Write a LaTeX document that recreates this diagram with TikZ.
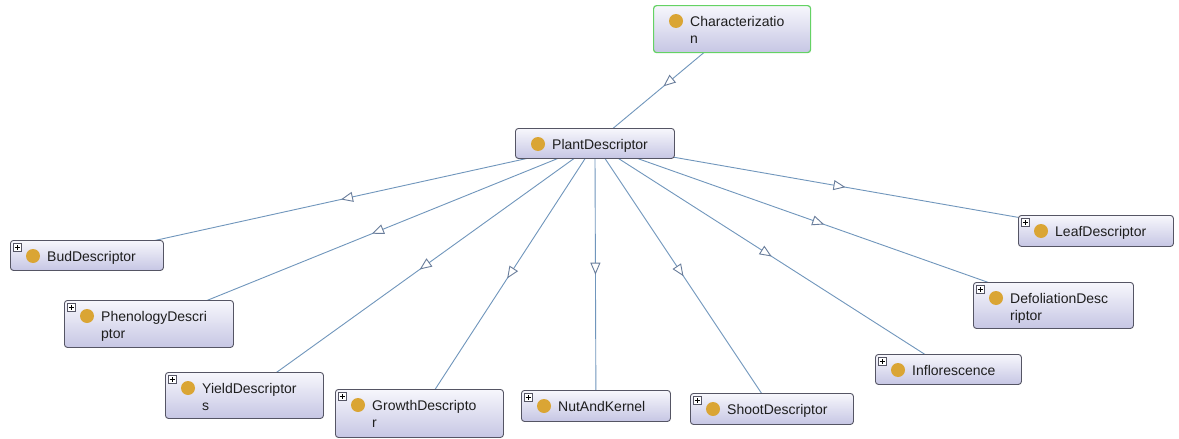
\documentclass[tikz,border=0pt]{standalone}
\usepackage{fontspec}
\setmainfont{Liberation Sans}
\usetikzlibrary{arrows.meta,decorations.markings,backgrounds}

\definecolor{edgecol}{RGB}{112,150,188}
\definecolor{arrowcol}{RGB}{105,125,155}
\definecolor{classborder}{RGB}{85,85,100}
\definecolor{classtop}{RGB}{247,247,252}
\definecolor{classbot}{RGB}{198,198,228}
\definecolor{classdotcol}{RGB}{218,165,52}
\definecolor{rootgreen}{RGB}{100,210,100}
\definecolor{textcol}{RGB}{30,30,30}

\tikzset{
  classbox/.style={draw=classborder, line width=0.9pt, rounded corners=3pt,
    top color=classtop, bottom color=classbot, inner sep=0pt, anchor=north west},
  rootbox/.style={classbox, draw=rootgreen, line width=1.2pt},
  classdot/.style={circle, fill=classdotcol, minimum size=14pt, inner sep=0pt},
  classtext/.style={anchor=base west, inner sep=0pt, text=textcol,
    font=\fontsize{14}{17}\selectfont},
  plusbox/.style={draw=classborder, fill=white, line width=0.6pt,
    minimum size=8pt, inner sep=0pt,
    path picture={
      \draw[black, line width=0.8pt]
        ([xshift=-2.5pt]path picture bounding box.center) --
        ([xshift=2.5pt]path picture bounding box.center)
        ([yshift=-2.5pt]path picture bounding box.center) --
        ([yshift=2.5pt]path picture bounding box.center);}},
  subclass/.style={draw=edgecol, line width=0.9pt,
    postaction={decorate},
    decoration={markings, mark=at position 0.5 with
      {\arrow{Triangle[length=12pt, width=10pt, fill=white, color=arrowcol]}}}}
}

% class box: name, left, top, width, height, style, first line of the label
\newcommand\ontoclass[7]{%
  \node[#6, minimum width=#4pt, minimum height=#5pt] (#1) at (#2,#3) {};
  \node[classdot] (#1-dot) at ([shift={(23,16)}]#1.north west) {};
  \node[classtext] (#1-t1) at ([shift={(37,21)}]#1.north west) {#7};
}
% second label line of a wrapped class name
\newcommand\secondline[2]{%
  \node[classtext] (#1-t2) at ([shift={(37,38.5)}]#1.north west) {#2};
}
% expand marker in the top left corner
\newcommand\expandmark[1]{%
  \node[plusbox] (#1-plus) at ([shift={(7,7)}]#1.north west) {};
}

\begin{document}
\begin{tikzpicture}[x=1pt, y=-1pt]
  \useasboundingbox (0,0) rectangle (1179,439);

  \ontoclass{char}{653}{5}{157}{47}{rootbox}{Characterizatio}
  \secondline{char}{n}

  \ontoclass{plant}{515}{128}{159}{30}{classbox}{PlantDescriptor}

  \ontoclass{bud}{10}{240}{153}{30}{classbox}{BudDescriptor}
  \expandmark{bud}

  \ontoclass{phen}{64}{300}{169}{47}{classbox}{PhenologyDescri}
  \secondline{phen}{ptor}
  \expandmark{phen}

  \ontoclass{yield}{165}{372}{158}{46}{classbox}{YieldDescriptor}
  \secondline{yield}{s}
  \expandmark{yield}

  \ontoclass{growth}{335}{389}{168}{48}{classbox}{GrowthDescripto}
  \secondline{growth}{r}
  \expandmark{growth}

  \ontoclass{nut}{521}{390}{149}{31}{classbox}{NutAndKernel}
  \expandmark{nut}

  \ontoclass{shoot}{690}{393}{163}{31}{classbox}{ShootDescriptor}
  \expandmark{shoot}

  \ontoclass{infl}{875}{354}{146}{30}{classbox}{Inflorescence}
  \expandmark{infl}

  \ontoclass{defol}{973}{282}{160}{46}{classbox}{DefoliationDesc}
  \secondline{defol}{riptor}
  \expandmark{defol}

  \ontoclass{leaf}{1018}{215}{155}{31}{classbox}{LeafDescriptor}
  \expandmark{leaf}

  % subclass edges run centre to centre behind the boxes
  \begin{pgfonlayer}{background}
    \fill[white] (0,0) rectangle (1179,439);
    \draw[subclass] (char.center) -- (plant.center);
    \foreach \sub in {bud,phen,yield,growth,nut,shoot,infl,defol,leaf}
      \draw[subclass] (plant.center) -- (\sub.center);
  \end{pgfonlayer}
\end{tikzpicture}
\end{document}
